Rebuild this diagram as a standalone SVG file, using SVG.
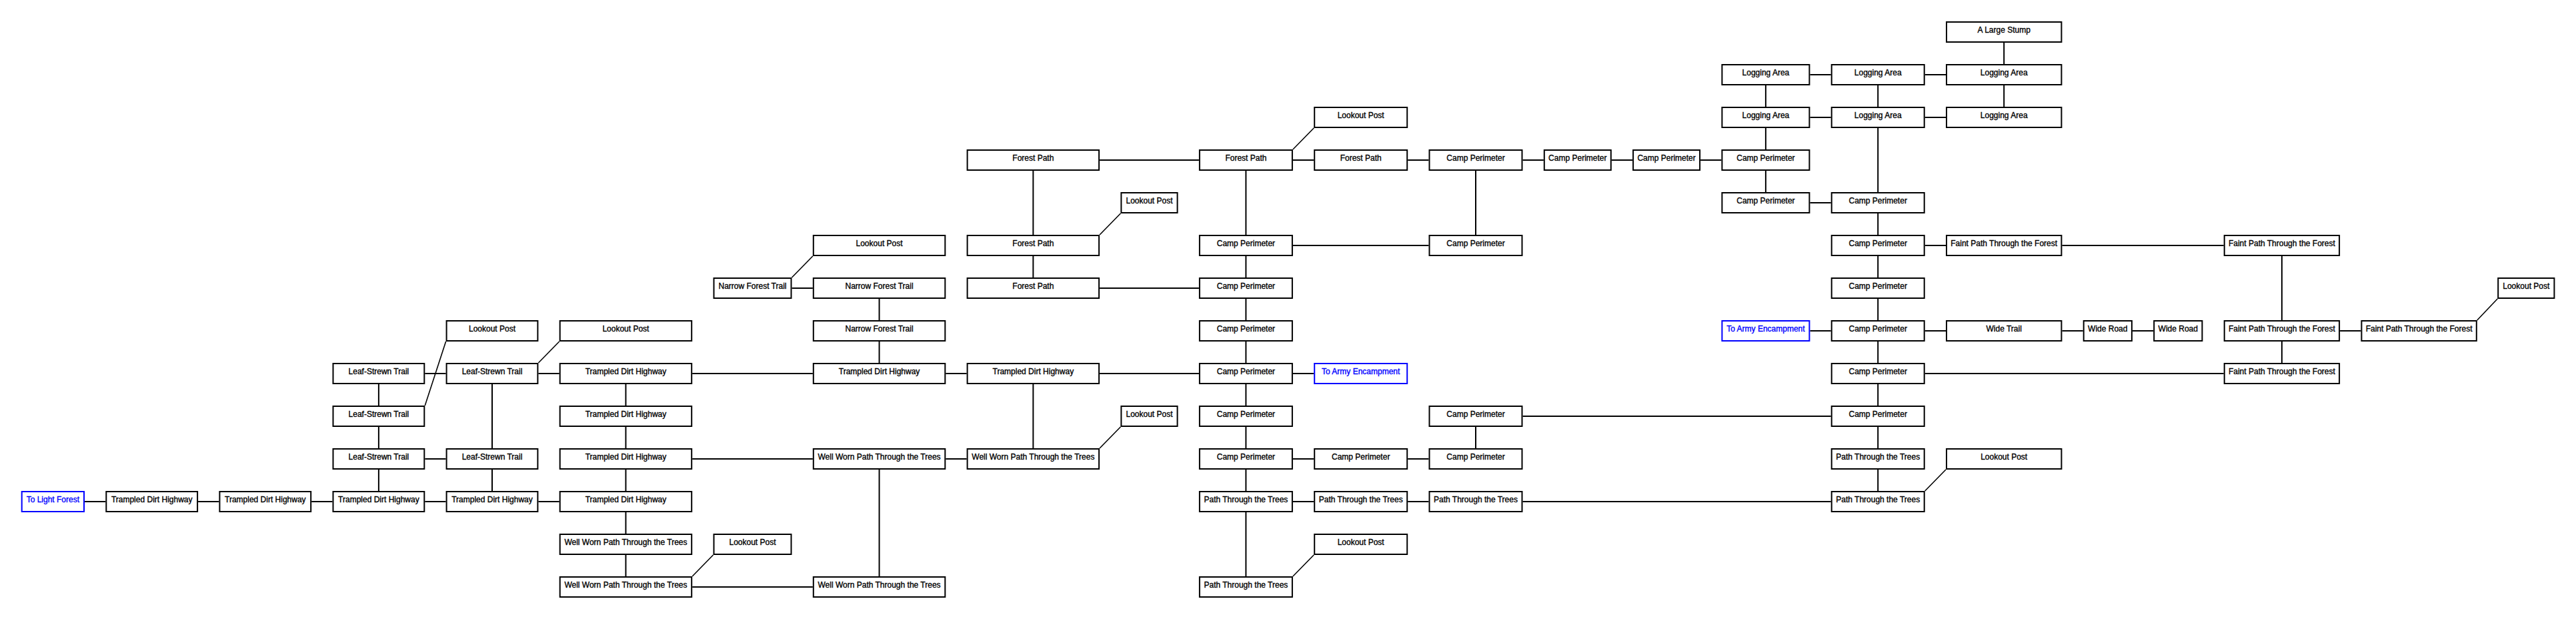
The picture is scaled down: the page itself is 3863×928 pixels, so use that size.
<svg xmlns="http://www.w3.org/2000/svg" width="3863" height="928" viewBox="0 0 3863 928">
<style>
.n rect{fill:#fff;stroke:#000;stroke-width:2}
.n text{font-family:"Liberation Sans",Arial,sans-serif;font-size:12px;text-anchor:middle;fill:#000;stroke:#000;stroke-width:0.35}
.b rect{stroke:#00f}
.b text{fill:#00f;stroke:#00f}
#edges line{stroke:#000;stroke-width:2}
#edges line.d{stroke-width:1.6}
</style>
<rect width="3863" height="928" fill="#fff"/>
<g id="edges">
<line x1="2714.4" y1="112" x2="2745.7" y2="112"/>
<line x1="2886.7" y1="112" x2="2918" y2="112"/>
<line x1="2714.4" y1="176" x2="2745.7" y2="176"/>
<line x1="2886.7" y1="176" x2="2918" y2="176"/>
<line x1="1649.1" y1="240" x2="1797.9" y2="240"/>
<line x1="1938.9" y1="240" x2="1970.2" y2="240"/>
<line x1="2111.2" y1="240" x2="2142.5" y2="240"/>
<line x1="2283.5" y1="240" x2="2314.8" y2="240"/>
<line x1="2416.8" y1="240" x2="2448.1" y2="240"/>
<line x1="2550.1" y1="240" x2="2581.4" y2="240"/>
<line x1="2714.4" y1="304" x2="2745.7" y2="304"/>
<line x1="1938.9" y1="368" x2="2142.5" y2="368"/>
<line x1="2886.7" y1="368" x2="2918" y2="368"/>
<line x1="3092.4" y1="368" x2="3334.7" y2="368"/>
<line x1="1187.5" y1="432" x2="1218.8" y2="432"/>
<line x1="1649.1" y1="432" x2="1797.9" y2="432"/>
<line x1="2714.4" y1="496" x2="2745.7" y2="496"/>
<line x1="2886.7" y1="496" x2="2918" y2="496"/>
<line x1="3092.4" y1="496" x2="3123.7" y2="496"/>
<line x1="3197.9" y1="496" x2="3229.2" y2="496"/>
<line x1="3509.1" y1="496" x2="3540.4" y2="496"/>
<line x1="637.3" y1="560" x2="668.6" y2="560"/>
<line x1="807.4" y1="560" x2="838.7" y2="560"/>
<line x1="1038.2" y1="560" x2="1218.8" y2="560"/>
<line x1="1418.3" y1="560" x2="1449.6" y2="560"/>
<line x1="1649.1" y1="560" x2="1797.9" y2="560"/>
<line x1="1938.9" y1="560" x2="1970.2" y2="560"/>
<line x1="2886.7" y1="560" x2="3334.7" y2="560"/>
<line x1="2283.5" y1="624" x2="2745.7" y2="624"/>
<line x1="637.3" y1="688" x2="668.6" y2="688"/>
<line x1="1038.2" y1="688" x2="1218.8" y2="688"/>
<line x1="1418.3" y1="688" x2="1449.6" y2="688"/>
<line x1="1938.9" y1="688" x2="1970.2" y2="688"/>
<line x1="2111.2" y1="688" x2="2142.5" y2="688"/>
<line x1="127" y1="752" x2="158.3" y2="752"/>
<line x1="297.1" y1="752" x2="328.4" y2="752"/>
<line x1="467.2" y1="752" x2="498.5" y2="752"/>
<line x1="637.3" y1="752" x2="668.6" y2="752"/>
<line x1="807.4" y1="752" x2="838.7" y2="752"/>
<line x1="1938.9" y1="752" x2="1970.2" y2="752"/>
<line x1="2111.2" y1="752" x2="2142.5" y2="752"/>
<line x1="2283.5" y1="752" x2="2745.7" y2="752"/>
<line x1="1038.2" y1="880" x2="1218.8" y2="880"/>
<line x1="567.9" y1="576" x2="567.9" y2="608"/>
<line x1="567.9" y1="640" x2="567.9" y2="672"/>
<line x1="567.9" y1="704" x2="567.9" y2="736"/>
<line x1="738" y1="576" x2="738" y2="672"/>
<line x1="738" y1="704" x2="738" y2="736"/>
<line x1="938.45" y1="576" x2="938.45" y2="608"/>
<line x1="938.45" y1="640" x2="938.45" y2="672"/>
<line x1="938.45" y1="704" x2="938.45" y2="736"/>
<line x1="938.45" y1="768" x2="938.45" y2="800"/>
<line x1="938.45" y1="832" x2="938.45" y2="864"/>
<line x1="1318.55" y1="448" x2="1318.55" y2="480"/>
<line x1="1318.55" y1="512" x2="1318.55" y2="544"/>
<line x1="1318.55" y1="704" x2="1318.55" y2="864"/>
<line x1="1549.35" y1="256" x2="1549.35" y2="352"/>
<line x1="1549.35" y1="384" x2="1549.35" y2="416"/>
<line x1="1549.35" y1="576" x2="1549.35" y2="672"/>
<line x1="1868.4" y1="256" x2="1868.4" y2="352"/>
<line x1="1868.4" y1="384" x2="1868.4" y2="416"/>
<line x1="1868.4" y1="448" x2="1868.4" y2="480"/>
<line x1="1868.4" y1="512" x2="1868.4" y2="544"/>
<line x1="1868.4" y1="576" x2="1868.4" y2="608"/>
<line x1="1868.4" y1="640" x2="1868.4" y2="672"/>
<line x1="1868.4" y1="704" x2="1868.4" y2="736"/>
<line x1="1868.4" y1="768" x2="1868.4" y2="864"/>
<line x1="2213" y1="256" x2="2213" y2="352"/>
<line x1="2213" y1="640" x2="2213" y2="672"/>
<line x1="2647.9" y1="128" x2="2647.9" y2="160"/>
<line x1="2647.9" y1="192" x2="2647.9" y2="224"/>
<line x1="2647.9" y1="256" x2="2647.9" y2="288"/>
<line x1="2816.2" y1="128" x2="2816.2" y2="160"/>
<line x1="2816.2" y1="192" x2="2816.2" y2="288"/>
<line x1="2816.2" y1="320" x2="2816.2" y2="352"/>
<line x1="2816.2" y1="384" x2="2816.2" y2="416"/>
<line x1="2816.2" y1="448" x2="2816.2" y2="480"/>
<line x1="2816.2" y1="512" x2="2816.2" y2="544"/>
<line x1="2816.2" y1="576" x2="2816.2" y2="608"/>
<line x1="2816.2" y1="640" x2="2816.2" y2="672"/>
<line x1="2816.2" y1="704" x2="2816.2" y2="736"/>
<line x1="3005.2" y1="64" x2="3005.2" y2="96"/>
<line x1="3005.2" y1="128" x2="3005.2" y2="160"/>
<line x1="3421.9" y1="384" x2="3421.9" y2="480"/>
<line x1="3421.9" y1="512" x2="3421.9" y2="544"/>
<line class="d" x1="637.3" y1="608" x2="668.6" y2="512"/>
<line class="d" x1="807.4" y1="544" x2="838.7" y2="512"/>
<line class="d" x1="1038.2" y1="864" x2="1069.5" y2="832"/>
<line class="d" x1="1187.5" y1="416" x2="1218.8" y2="384"/>
<line class="d" x1="1649.1" y1="352" x2="1680.4" y2="320"/>
<line class="d" x1="1649.1" y1="672" x2="1680.4" y2="640"/>
<line class="d" x1="1938.9" y1="224" x2="1970.2" y2="192"/>
<line class="d" x1="1938.9" y1="864" x2="1970.2" y2="832"/>
<line class="d" x1="2886.7" y1="736" x2="2918" y2="704"/>
<line class="d" x1="3714.8" y1="480" x2="3745.2" y2="448"/>
</g>
<g id="n1" class="n"><rect x="2919" y="33" width="172.4" height="30"/><text x="3005.2" y="49">A Large Stump</text></g>
<g id="n2" class="n"><rect x="2582.4" y="97" width="131" height="30"/><text x="2647.9" y="113">Logging Area</text></g>
<g id="n3" class="n"><rect x="2746.7" y="97" width="139" height="30"/><text x="2816.2" y="113">Logging Area</text></g>
<g id="n4" class="n"><rect x="2919" y="97" width="172.4" height="30"/><text x="3005.2" y="113">Logging Area</text></g>
<g id="n5" class="n"><rect x="1971.2" y="161" width="139" height="30"/><text x="2040.7" y="177">Lookout Post</text></g>
<g id="n6" class="n"><rect x="2582.4" y="161" width="131" height="30"/><text x="2647.9" y="177">Logging Area</text></g>
<g id="n7" class="n"><rect x="2746.7" y="161" width="139" height="30"/><text x="2816.2" y="177">Logging Area</text></g>
<g id="n8" class="n"><rect x="2919" y="161" width="172.4" height="30"/><text x="3005.2" y="177">Logging Area</text></g>
<g id="n9" class="n"><rect x="1450.6" y="225" width="197.5" height="30"/><text x="1549.35" y="241">Forest Path</text></g>
<g id="n10" class="n"><rect x="1798.9" y="225" width="139" height="30"/><text x="1868.4" y="241">Forest Path</text></g>
<g id="n11" class="n"><rect x="1971.2" y="225" width="139" height="30"/><text x="2040.7" y="241">Forest Path</text></g>
<g id="n12" class="n"><rect x="2143.5" y="225" width="139" height="30"/><text x="2213" y="241">Camp Perimeter</text></g>
<g id="n13" class="n"><rect x="2315.8" y="225" width="100" height="30"/><text x="2365.8" y="241">Camp Perimeter</text></g>
<g id="n14" class="n"><rect x="2449.1" y="225" width="100" height="30"/><text x="2499.1" y="241">Camp Perimeter</text></g>
<g id="n15" class="n"><rect x="2582.4" y="225" width="131" height="30"/><text x="2647.9" y="241">Camp Perimeter</text></g>
<g id="n16" class="n"><rect x="1681.4" y="289" width="84.2" height="30"/><text x="1723.5" y="305">Lookout Post</text></g>
<g id="n17" class="n"><rect x="2582.4" y="289" width="131" height="30"/><text x="2647.9" y="305">Camp Perimeter</text></g>
<g id="n18" class="n"><rect x="2746.7" y="289" width="139" height="30"/><text x="2816.2" y="305">Camp Perimeter</text></g>
<g id="n19" class="n"><rect x="1219.8" y="353" width="197.5" height="30"/><text x="1318.55" y="369">Lookout Post</text></g>
<g id="n20" class="n"><rect x="1450.6" y="353" width="197.5" height="30"/><text x="1549.35" y="369">Forest Path</text></g>
<g id="n21" class="n"><rect x="1798.9" y="353" width="139" height="30"/><text x="1868.4" y="369">Camp Perimeter</text></g>
<g id="n22" class="n"><rect x="2143.5" y="353" width="139" height="30"/><text x="2213" y="369">Camp Perimeter</text></g>
<g id="n23" class="n"><rect x="2746.7" y="353" width="139" height="30"/><text x="2816.2" y="369">Camp Perimeter</text></g>
<g id="n24" class="n"><rect x="2919" y="353" width="172.4" height="30"/><text x="3005.2" y="369">Faint Path Through the Forest</text></g>
<g id="n25" class="n"><rect x="3335.7" y="353" width="172.4" height="30"/><text x="3421.9" y="369">Faint Path Through the Forest</text></g>
<g id="n26" class="n"><rect x="1070.5" y="417" width="116" height="30"/><text x="1128.5" y="433">Narrow Forest Trail</text></g>
<g id="n27" class="n"><rect x="1219.8" y="417" width="197.5" height="30"/><text x="1318.55" y="433">Narrow Forest Trail</text></g>
<g id="n28" class="n"><rect x="1450.6" y="417" width="197.5" height="30"/><text x="1549.35" y="433">Forest Path</text></g>
<g id="n29" class="n"><rect x="1798.9" y="417" width="139" height="30"/><text x="1868.4" y="433">Camp Perimeter</text></g>
<g id="n30" class="n"><rect x="2746.7" y="417" width="139" height="30"/><text x="2816.2" y="433">Camp Perimeter</text></g>
<g id="n31" class="n"><rect x="3746.2" y="417" width="84.2" height="30"/><text x="3788.3" y="433">Lookout Post</text></g>
<g id="n32" class="n"><rect x="669.6" y="481" width="136.8" height="30"/><text x="738" y="497">Lookout Post</text></g>
<g id="n33" class="n"><rect x="839.7" y="481" width="197.5" height="30"/><text x="938.45" y="497">Lookout Post</text></g>
<g id="n34" class="n"><rect x="1219.8" y="481" width="197.5" height="30"/><text x="1318.55" y="497">Narrow Forest Trail</text></g>
<g id="n35" class="n"><rect x="1798.9" y="481" width="139" height="30"/><text x="1868.4" y="497">Camp Perimeter</text></g>
<g id="n36" class="n b"><rect x="2582.4" y="481" width="131" height="30"/><text x="2647.9" y="497">To Army Encampment</text></g>
<g id="n37" class="n"><rect x="2746.7" y="481" width="139" height="30"/><text x="2816.2" y="497">Camp Perimeter</text></g>
<g id="n38" class="n"><rect x="2919" y="481" width="172.4" height="30"/><text x="3005.2" y="497">Wide Trail</text></g>
<g id="n39" class="n"><rect x="3124.7" y="481" width="72.2" height="30"/><text x="3160.8" y="497">Wide Road</text></g>
<g id="n40" class="n"><rect x="3230.2" y="481" width="72.2" height="30"/><text x="3266.3" y="497">Wide Road</text></g>
<g id="n41" class="n"><rect x="3335.7" y="481" width="172.4" height="30"/><text x="3421.9" y="497">Faint Path Through the Forest</text></g>
<g id="n42" class="n"><rect x="3541.4" y="481" width="172.4" height="30"/><text x="3627.6" y="497">Faint Path Through the Forest</text></g>
<g id="n43" class="n"><rect x="499.5" y="545" width="136.8" height="30"/><text x="567.9" y="561">Leaf-Strewn Trail</text></g>
<g id="n44" class="n"><rect x="669.6" y="545" width="136.8" height="30"/><text x="738" y="561">Leaf-Strewn Trail</text></g>
<g id="n45" class="n"><rect x="839.7" y="545" width="197.5" height="30"/><text x="938.45" y="561">Trampled Dirt Highway</text></g>
<g id="n46" class="n"><rect x="1219.8" y="545" width="197.5" height="30"/><text x="1318.55" y="561">Trampled Dirt Highway</text></g>
<g id="n47" class="n"><rect x="1450.6" y="545" width="197.5" height="30"/><text x="1549.35" y="561">Trampled Dirt Highway</text></g>
<g id="n48" class="n"><rect x="1798.9" y="545" width="139" height="30"/><text x="1868.4" y="561">Camp Perimeter</text></g>
<g id="n49" class="n b"><rect x="1971.2" y="545" width="139" height="30"/><text x="2040.7" y="561">To Army Encampment</text></g>
<g id="n50" class="n"><rect x="2746.7" y="545" width="139" height="30"/><text x="2816.2" y="561">Camp Perimeter</text></g>
<g id="n51" class="n"><rect x="3335.7" y="545" width="172.4" height="30"/><text x="3421.9" y="561">Faint Path Through the Forest</text></g>
<g id="n52" class="n"><rect x="499.5" y="609" width="136.8" height="30"/><text x="567.9" y="625">Leaf-Strewn Trail</text></g>
<g id="n53" class="n"><rect x="839.7" y="609" width="197.5" height="30"/><text x="938.45" y="625">Trampled Dirt Highway</text></g>
<g id="n54" class="n"><rect x="1681.4" y="609" width="84.2" height="30"/><text x="1723.5" y="625">Lookout Post</text></g>
<g id="n55" class="n"><rect x="1798.9" y="609" width="139" height="30"/><text x="1868.4" y="625">Camp Perimeter</text></g>
<g id="n56" class="n"><rect x="2143.5" y="609" width="139" height="30"/><text x="2213" y="625">Camp Perimeter</text></g>
<g id="n57" class="n"><rect x="2746.7" y="609" width="139" height="30"/><text x="2816.2" y="625">Camp Perimeter</text></g>
<g id="n58" class="n"><rect x="499.5" y="673" width="136.8" height="30"/><text x="567.9" y="689">Leaf-Strewn Trail</text></g>
<g id="n59" class="n"><rect x="669.6" y="673" width="136.8" height="30"/><text x="738" y="689">Leaf-Strewn Trail</text></g>
<g id="n60" class="n"><rect x="839.7" y="673" width="197.5" height="30"/><text x="938.45" y="689">Trampled Dirt Highway</text></g>
<g id="n61" class="n"><rect x="1219.8" y="673" width="197.5" height="30"/><text x="1318.55" y="689">Well Worn Path Through the Trees</text></g>
<g id="n62" class="n"><rect x="1450.6" y="673" width="197.5" height="30"/><text x="1549.35" y="689">Well Worn Path Through the Trees</text></g>
<g id="n63" class="n"><rect x="1798.9" y="673" width="139" height="30"/><text x="1868.4" y="689">Camp Perimeter</text></g>
<g id="n64" class="n"><rect x="1971.2" y="673" width="139" height="30"/><text x="2040.7" y="689">Camp Perimeter</text></g>
<g id="n65" class="n"><rect x="2143.5" y="673" width="139" height="30"/><text x="2213" y="689">Camp Perimeter</text></g>
<g id="n66" class="n"><rect x="2746.7" y="673" width="139" height="30"/><text x="2816.2" y="689">Path Through the Trees</text></g>
<g id="n67" class="n"><rect x="2919" y="673" width="172.4" height="30"/><text x="3005.2" y="689">Lookout Post</text></g>
<g id="n68" class="n b"><rect x="32.7" y="737" width="93.3" height="30"/><text x="79.35" y="753">To Light Forest</text></g>
<g id="n69" class="n"><rect x="159.3" y="737" width="136.8" height="30"/><text x="227.7" y="753">Trampled Dirt Highway</text></g>
<g id="n70" class="n"><rect x="329.4" y="737" width="136.8" height="30"/><text x="397.8" y="753">Trampled Dirt Highway</text></g>
<g id="n71" class="n"><rect x="499.5" y="737" width="136.8" height="30"/><text x="567.9" y="753">Trampled Dirt Highway</text></g>
<g id="n72" class="n"><rect x="669.6" y="737" width="136.8" height="30"/><text x="738" y="753">Trampled Dirt Highway</text></g>
<g id="n73" class="n"><rect x="839.7" y="737" width="197.5" height="30"/><text x="938.45" y="753">Trampled Dirt Highway</text></g>
<g id="n74" class="n"><rect x="1798.9" y="737" width="139" height="30"/><text x="1868.4" y="753">Path Through the Trees</text></g>
<g id="n75" class="n"><rect x="1971.2" y="737" width="139" height="30"/><text x="2040.7" y="753">Path Through the Trees</text></g>
<g id="n76" class="n"><rect x="2143.5" y="737" width="139" height="30"/><text x="2213" y="753">Path Through the Trees</text></g>
<g id="n77" class="n"><rect x="2746.7" y="737" width="139" height="30"/><text x="2816.2" y="753">Path Through the Trees</text></g>
<g id="n78" class="n"><rect x="839.7" y="801" width="197.5" height="30"/><text x="938.45" y="817">Well Worn Path Through the Trees</text></g>
<g id="n79" class="n"><rect x="1070.5" y="801" width="116" height="30"/><text x="1128.5" y="817">Lookout Post</text></g>
<g id="n80" class="n"><rect x="1971.2" y="801" width="139" height="30"/><text x="2040.7" y="817">Lookout Post</text></g>
<g id="n81" class="n"><rect x="839.7" y="865" width="197.5" height="30"/><text x="938.45" y="881">Well Worn Path Through the Trees</text></g>
<g id="n82" class="n"><rect x="1219.8" y="865" width="197.5" height="30"/><text x="1318.55" y="881">Well Worn Path Through the Trees</text></g>
<g id="n83" class="n"><rect x="1798.9" y="865" width="139" height="30"/><text x="1868.4" y="881">Path Through the Trees</text></g>
</svg>
